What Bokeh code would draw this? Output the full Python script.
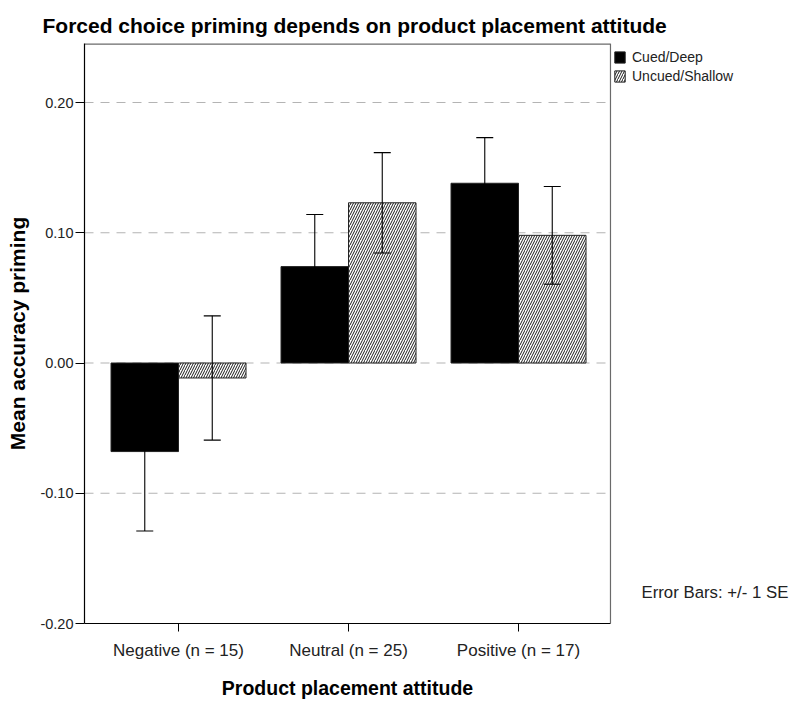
from bokeh.plotting import figure
from bokeh.models import (ColumnDataSource, Range1d, FixedTicker, Whisker, TeeHead,
                          Legend, LegendItem, Label, LinearAxis)
from bokeh.transform import dodge
from bokeh.embed import file_html
from bokeh.resources import INLINE

# ---- data ----
categories = ["Negative (n = 15)", "Neutral (n = 25)", "Positive (n = 17)"]
cued_mean = [-0.068, 0.074, 0.138]
cued_se = [0.061, 0.040, 0.035]
uncued_mean = [-0.0115, 0.123, 0.098]
uncued_se = [0.0477, 0.0385, 0.0375]
series_names = ["Cued/Deep", "Uncued/Shallow"]
y_ticks = [-0.2, -0.1, 0.0, 0.1, 0.2]
y_tick_labels = ["-0.20", "-0.10", "0.00", "0.10", "0.20"]
grid_values = [-0.1, 0.0, 0.1, 0.2]
x_title = "Product placement attitude"

x_pos = [i + 1 for i in range(len(categories))]
src_c = ColumnDataSource(dict(x=x_pos, m=cued_mean,
                              lo=[m - s for m, s in zip(cued_mean, cued_se)],
                              hi=[m + s for m, s in zip(cued_mean, cued_se)]))
src_u = ColumnDataSource(dict(x=x_pos, m=uncued_mean,
                              lo=[m - s for m, s in zip(uncued_mean, uncued_se)],
                              hi=[m + s for m, s in zip(uncued_mean, uncued_se)]))

FONT = "Liberation Sans"
BAR_W = 0.397
OFF = BAR_W / 2
PX_PER_X = 170.0
X_START = 0.447
BOX_RIGHT = 3.541            # right edge of the drawn chart box
BOX_CENTER = (X_START + BOX_RIGHT) / 2
FRAME_W = 707
X_END = X_START + FRAME_W / PX_PER_X
Y_START, Y_TOP = -0.2, 0.2453

p = figure(frame_width=FRAME_W, frame_height=580,
           x_range=Range1d(X_START, X_END), y_range=Range1d(Y_START, Y_TOP),
           output_backend="svg", toolbar_location=None,
           min_border_left=84, min_border_right=0,
           min_border_top=43, min_border_bottom=75)
p.background_fill_color = "white"
p.outline_line_color = None

# title
p.title.text = "Forced choice priming depends on product placement attitude"
p.title.text_font = FONT
p.title.text_font_style = "bold"
p.title.text_font_size = "21px"
p.title.text_color = "black"
p.title.align = "left"
p.title.offset = -42
p.title.standoff = 14

# grid (only across the chart box)
p.xgrid.visible = False
p.ygrid.visible = False
p.segment(x0=X_START, x1=BOX_RIGHT, y0=grid_values, y1=grid_values,
          line_color="#b4b4b4", line_dash="9 7", line_width=1.2)

# box: top and right borders
p.segment(x0=[X_START, BOX_RIGHT], x1=[BOX_RIGHT, BOX_RIGHT],
          y0=[Y_TOP, Y_START], y1=[Y_TOP, Y_TOP],
          line_color="#6a6a6a", line_width=[2.4, 1.2])

r_c = p.vbar(x=dodge("x", -OFF, range=p.x_range), top="m", bottom=0, width=BAR_W,
             source=src_c, fill_color="black", line_color="#222222", line_width=1)
r_u = p.vbar(x=dodge("x", OFF, range=p.x_range), top="m", bottom=0, width=BAR_W,
             source=src_u, fill_color="white", line_color="#222222", line_width=1,
             hatch_pattern="/", hatch_color="#1a1a1a", hatch_scale=5, hatch_weight=1)

for src, off in ((src_c, -OFF), (src_u, OFF)):
    w = Whisker(base=dodge("x", off, range=p.x_range), upper="hi", lower="lo", source=src,
                line_color="black", line_width=1.1, level="annotation",
                upper_head=TeeHead(size=17, line_color="black", line_width=1.1),
                lower_head=TeeHead(size=17, line_color="black", line_width=1.1))
    p.add_layout(w)

# y axis
ya = p.yaxis[0]
ya.ticker = FixedTicker(ticks=y_ticks)
ya.major_label_overrides = {t: l for t, l in zip(y_ticks, y_tick_labels)}
ya.minor_tick_line_color = None
ya.major_tick_in = 0
ya.major_tick_out = 9
ya.major_label_standoff = 2
ya.major_label_text_font = FONT
ya.major_label_text_font_size = "14.5px"
ya.major_label_text_color = "#222222"
ya.axis_line_color = "black"
ya.axis_line_width = 1.2
ya.axis_label = "Mean accuracy priming"
ya.axis_label_text_font = FONT
ya.axis_label_text_font_style = "bold"
ya.axis_label_text_font_size = "21px"
ya.axis_label_text_color = "black"
ya.axis_label_standoff = 8

# x axis (categories)
xa = p.xaxis[0]
xa.ticker = FixedTicker(ticks=x_pos)
xa.major_label_overrides = {x: c for x, c in zip(x_pos, categories)}
xa.bounds = (X_START, BOX_RIGHT)
xa.minor_tick_line_color = None
xa.major_tick_in = 0
xa.major_tick_out = 8
xa.major_label_standoff = 9
xa.major_label_text_font = FONT
xa.major_label_text_font_size = "17px"
xa.major_label_text_color = "#222222"
xa.axis_line_color = "black"
xa.axis_line_width = 1.2

# x axis title, centred under the chart box
xt = LinearAxis(ticker=FixedTicker(ticks=[BOX_CENTER]),
                major_label_overrides={BOX_CENTER: x_title},
                axis_line_color=None, major_tick_line_color=None,
                minor_tick_line_color=None, major_label_standoff=8,
                major_label_text_font=FONT, major_label_text_font_style="bold",
                major_label_text_font_size="19.5px", major_label_text_color="black")
p.add_layout(xt, "below")

# legend (inside the frame area right of the chart box)
legend = Legend(items=[LegendItem(label=series_names[0], renderers=[r_c]),
                       LegendItem(label=series_names[1], renderers=[r_u])],
                location=(529, 539), orientation="vertical",
                label_text_font=FONT, label_text_font_size="14px",
                label_text_color="#222222",
                glyph_width=13, glyph_height=14, label_standoff=6,
                spacing=3, padding=2, margin=0,
                border_line_color=None, background_fill_alpha=0)
p.add_layout(legend)

# note
p.add_layout(Label(x=557, y=31, x_units="screen", y_units="screen",
                   text="Error Bars: +/- 1 SE", text_font=FONT,
                   text_font_size="16.8px", text_color="#222222",
                   text_baseline="alphabetic"))

open("out.html", "w").write(file_html(p, INLINE))
